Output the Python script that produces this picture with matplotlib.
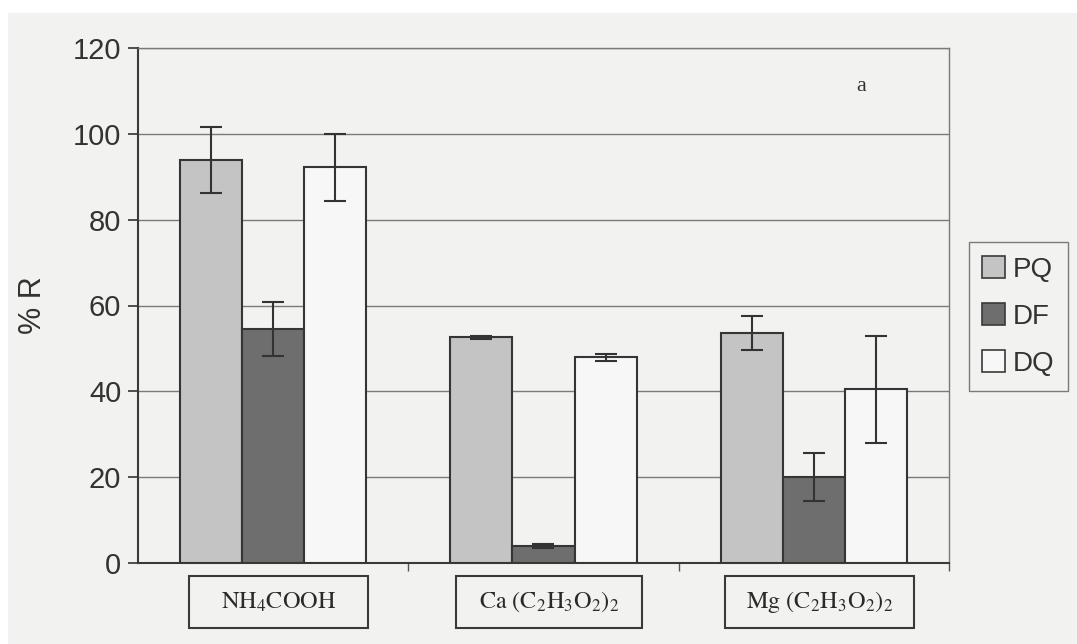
import matplotlib.pyplot as plt
import numpy as np
from matplotlib.patches import Patch, Rectangle
from matplotlib.transforms import blended_transform_factory

# Removal (%R) per salt and treatment, with error bars
categories = [r'$\mathrm{NH_4COOH}$',
              r'$\mathrm{Ca\ (C_2H_3O_2)_2}$',
              r'$\mathrm{Mg\ (C_2H_3O_2)_2}$']
series = ['PQ', 'DF', 'DQ']
pq = [93.8, 52.6, 53.6]
df = [54.5, 4.0, 20.1]
dq = [92.2, 47.9, 40.5]
pq_err = [7.7, 0.4, 4.0]
df_err = [6.2, 0.4, 5.6]
dq_err = [7.8, 0.8, 12.5]

plt.rcParams['font.family'] = ['Liberation Sans', 'DejaVu Sans']
plt.rcParams['mathtext.fontset'] = 'stix'

bg = '#f2f2f1'
ink = '#333333'
colors = ['#c4c4c4', '#6e6e6e', '#f7f7f7']

fig = plt.figure(figsize=(10.77, 6.44), dpi=100)
fig.patch.set_facecolor('white')
# page area of the scan (white margin at top and left)
fig.patches.append(Rectangle((8 / 1077, 0), 1, 1 - 13 / 644, transform=fig.transFigure,
                             facecolor=bg, edgecolor='none', zorder=-10))

ax = fig.add_axes([138 / 1077, 1 - 563 / 644, (949 - 138) / 1077, (563 - 48) / 644])
ax.set_facecolor(bg)

x = np.arange(len(categories))
w = 0.23
values = [pq, df, dq]
errors = [pq_err, df_err, dq_err]
for i, (vals, errs) in enumerate(zip(values, errors)):
    ax.bar(x + (i - 1) * w, vals, w, color=colors[i], edgecolor='#353535',
           linewidth=1.5, zorder=3)
    ax.errorbar(x + (i - 1) * w, vals, yerr=errs, fmt='none', ecolor=ink,
                elinewidth=1.5, capsize=8, capthick=1.5, zorder=4)

ax.set_xlim(-0.5, 2.5)
ax.set_ylim(0, 120)
ax.set_yticks(np.arange(0, 121, 20))
ax.yaxis.grid(True, color='#7a7a7a', linewidth=1.0, zorder=0)
ax.set_xticks([0.5, 1.5, 2.5])
ax.set_xticklabels([])
ax.tick_params(axis='y', labelsize=21, colors=ink, length=7, width=1.2, pad=5)
ax.tick_params(axis='x', colors='#555555', length=6, width=1.0)
for side in ['left', 'bottom']:
    ax.spines[side].set_color('#3a3a3a')
    ax.spines[side].set_linewidth(1.5)
for side in ['top', 'right']:
    ax.spines[side].set_color('#7a7a7a')
    ax.spines[side].set_linewidth(1.0)

ax.set_ylabel('% R', fontsize=22, color=ink, labelpad=18)

# boxed category labels under the axis
box_widths = [0.66, 0.69, 0.70]
trans = blended_transform_factory(ax.transData, ax.transAxes)
for xi, label, bw in zip(x, categories, box_widths):
    ax.add_patch(Rectangle((xi + 0.02 - bw / 2, -0.126), bw, 0.101, transform=trans,
                           facecolor='none', edgecolor='#3a3a3a', linewidth=1.5,
                           clip_on=False))
    ax.text(xi + 0.02, -0.076, label, transform=trans, ha='center', va='center',
            fontsize=17.5, color='#2a2a2a')

ax.text(0.892, 0.925, 'a', transform=ax.transAxes, ha='center', va='center',
        fontsize=16, family='Liberation Serif', color=ink)

handles = [Patch(facecolor=c, edgecolor='#3a3a3a', linewidth=1.2) for c in colors]
leg = fig.legend(handles, series, loc='center', bbox_to_anchor=(1018.5 / 1077, 1 - 316.5 / 644),
                 fontsize=20, frameon=True, fancybox=False, handlelength=0.8,
                 handleheight=0.8, handletextpad=0.3, labelspacing=0.75,
                 borderpad=0.5, edgecolor='#7a7a7a', facecolor=bg, framealpha=1)
for t in leg.get_texts():
    t.set_color(ink)

fig.savefig('out.png', dpi=100, facecolor=fig.get_facecolor())
